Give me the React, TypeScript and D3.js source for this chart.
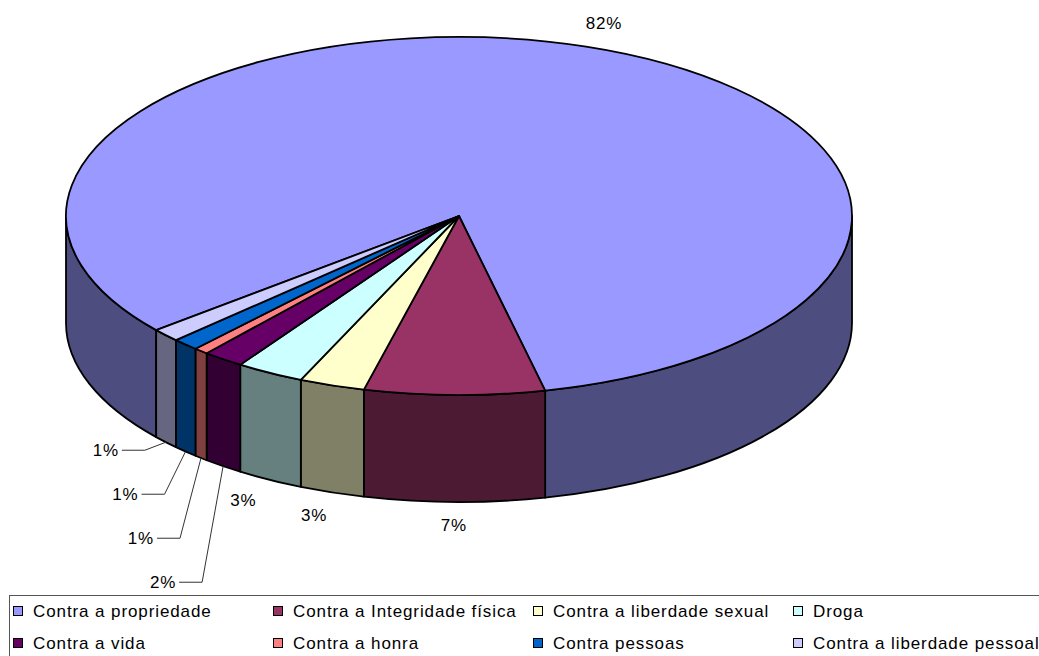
import React from "react";
import * as d3 from "d3";

// slice data (percent shares)
const categories = [
  "Contra a propriedade",
  "Contra a Integridade física",
  "Contra a liberdade sexual",
  "Droga",
  "Contra a vida",
  "Contra a honra",
  "Contra pessoas",
  "Contra a liberdade pessoal",
];
const values = [82.4, 7.4, 2.7, 2.8, 1.7, 0.6, 1.1, 1.2];
const topColors = ["#9999FF", "#993366", "#FFFFCC", "#CCFFFF", "#660066", "#FF8080", "#0066CC", "#CCCCFF"];

const W = 1039;
const H = 656;
const cx = 459;
const cy = 216;
const rx = 393;
const ry = 179;
const depth = 107;
const firstSliceDeg = 230.4; // d3 pie angle (clockwise from 12 o'clock)
const font = "'Liberation Sans', Arial, sans-serif";

const pt = (t: number, dy = 0): [number, number] => [cx + rx * Math.cos(t), cy + dy + ry * Math.sin(t)];

export default function App() {
  const total = d3.sum(values);
  const pie = d3
    .pie<number>()
    .sort(null)
    .startAngle((firstSliceDeg * Math.PI) / 180)
    .endAngle((firstSliceDeg * Math.PI) / 180 + 2 * Math.PI);
  const arcs = pie(values).map((a, i) => ({
    i,
    t0: a.startAngle - Math.PI / 2,
    t1: a.endAngle - Math.PI / 2,
    pct: Math.round((values[i] / total) * 100),
  }));

  // side walls: the part of each slice's rim that lies in the front half
  const walls: { i: number; d: string }[] = [];
  arcs.forEach((a) => {
    [0, 2 * Math.PI, 4 * Math.PI].forEach((off) => {
      const s = Math.max(a.t0, off);
      const e = Math.min(a.t1, off + Math.PI);
      if (e - s <= 1e-6) return;
      const [x0, y0] = pt(s);
      const [x1, y1] = pt(e);
      const [x2, y2] = pt(e, depth);
      const [x3, y3] = pt(s, depth);
      walls.push({
        i: a.i,
        d: `M${x0},${y0} A${rx},${ry} 0 0 1 ${x1},${y1} L${x2},${y2} A${rx},${ry} 0 0 0 ${x3},${y3} Z`,
      });
    });
  });

  const tops = arcs.map((a) => {
    const [x0, y0] = pt(a.t0);
    const [x1, y1] = pt(a.t1);
    const large = a.t1 - a.t0 > Math.PI ? 1 : 0;
    return { i: a.i, d: `M${cx},${cy} L${x0},${y0} A${rx},${ry} 0 ${large} 1 ${x1},${y1} Z` };
  });

  // labels
  const normal = arcs.filter((a) => (values[a.i] / total) * 100 >= 2);
  const small = arcs.filter((a) => (values[a.i] / total) * 100 < 2).reverse();
  const normalLabels = normal.map((a) => {
    const m = (a.t0 + a.t1) / 2;
    const base = Math.sin(m) > 0 ? cy + depth : cy;
    return {
      i: a.i,
      text: `${a.pct}%`,
      x: cx + (rx + 55) * Math.cos(m),
      y: base + (ry + 24) * Math.sin(m),
    };
  });
  const anchors = small.map((a) => pt((a.t0 + a.t1) / 2, depth));
  const firstY = anchors.length ? anchors[0][1] + 8 : 0;
  const smallLabels = small.map((a, k) => {
    const [ax, ay] = anchors[k];
    const y = firstY + k * 44;
    const ex = ax - 21;
    return { i: a.i, text: `${a.pct}%`, ax, ay, ex, y, lx: ex - 23 };
  });

  const sideColor = (c: string) => {
    const r = d3.rgb(c);
    return d3.rgb(r.r * 0.5, r.g * 0.5, r.b * 0.5).toString();
  };

  const colX = (c: number) => 13 + c * 260;
  const rowY = (r: number) => 611 + r * 32;

  return (
    <svg
      width={W}
      height={H}
      style={{ position: "absolute", left: 0, top: 0, background: "#fff" }}
      fontFamily={font}
    >
      <g stroke="#000" strokeWidth={1.8} strokeLinejoin="round">
        {walls.map((w, k) => (
          <path key={`w${k}`} d={w.d} fill={sideColor(topColors[w.i])} />
        ))}
        {tops.map((t) => (
          <path key={`t${t.i}`} d={t.d} fill={topColors[t.i]} />
        ))}
      </g>
      <g fontSize={17} letterSpacing={0.8} fill="#000">
        {normalLabels.map((l) => (
          <text key={`l${l.i}`} x={l.x} y={l.y} textAnchor="middle" dominantBaseline="central">
            {l.text}
          </text>
        ))}
        {smallLabels.map((l) => (
          <g key={`s${l.i}`}>
            <polyline
              points={`${l.lx},${l.y} ${l.ex},${l.y} ${l.ax},${l.ay}`}
              fill="none"
              stroke="#333"
              strokeWidth={1}
            />
            <text x={l.lx - 3} y={l.y} textAnchor="end" dominantBaseline="central">
              {l.text}
            </text>
          </g>
        ))}
      </g>
      <rect x={9.5} y={595.5} width={1040} height={70} fill="none" stroke="#555" strokeWidth={1} />
      <g fontSize={17} letterSpacing={0.9}>
        {categories.map((c, i) => {
          const col = i % 4;
          const row = Math.floor(i / 4);
          return (
            <g key={c}>
              <rect
                x={colX(col) + 0.5}
                y={rowY(row) - 4.5}
                width={9}
                height={9}
                fill={topColors[i]}
                stroke="#000"
                strokeWidth={1}
              />
              <text x={colX(col) + 20} y={rowY(row)} dominantBaseline="central" fill="#000">
                {c}
              </text>
            </g>
          );
        })}
      </g>
    </svg>
  );
}
